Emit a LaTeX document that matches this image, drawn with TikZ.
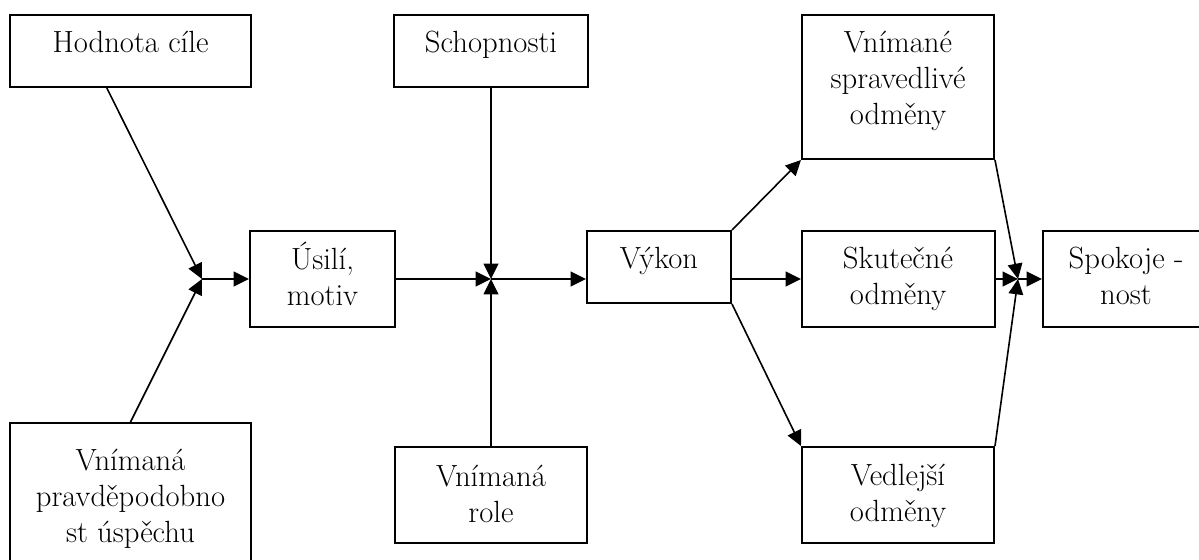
\documentclass[tikz,border=0pt]{standalone}
\usetikzlibrary{arrows.meta,fit,calc}
\newcommand\fl{\rule{0pt}{22pt}}
\begin{document}
\begin{tikzpicture}[x=0.75pt,y=-0.75pt,
  box/.style={draw=black,line width=1.5pt,inner sep=0pt,fill=none},
  txt/.style={anchor=north,inner sep=0pt,align=center,font=\fontsize{23}{27}\selectfont},
  conn/.style={line width=1.2pt,-{Triangle[length=11.5pt,width=11pt]}}]
\path[use as bounding box,clip] (0,0) rectangle (1199,560);
\fill[white] (0,0) rectangle (1199,560);
% boxes
\node[box,fit={(10,15)(251,87)}] (hod) {};
\node[box,fit={(10,423)(251,575)}] (pra) {};
\node[box,fit={(250,231)(395,327)}] (usi) {};
\node[box,fit={(394,15)(588,87)}] (sch) {};
\node[box,fit={(395,447)(587,543)}] (rol) {};
\node[box,fit={(587,231)(731,303)}] (vyk) {};
\node[box,fit={(802,15)(994,159)}] (spr) {};
\node[box,fit={(802,231)(995,327)}] (sku) {};
\node[box,fit={(802,447)(994,543)}] (ved) {};
\node[box,fit={(1043,231)(1210,327)}] (spo) {};
% texts
\node[txt] (hodT) at (130.5,22.67) {\fl Hodnota cíle};
\node[txt] (schT) at (491,22.67) {\fl Schopnosti};
\node[txt] (sprT) at (898,22.67) {\fl Vnímané\\spravedlivé\\odměny};
\node[txt] (usiT) at (322.5,239.67) {\fl Úsilí,\\motiv};
\node[txt] (vykT) at (659,238.67) {\fl Výkon};
\node[txt] (skuT) at (898,238.67) {\fl Skutečné\\odměny};
\node[txt] (spoT) at (1126,238.67) {\fl Spokoje -\\nost};
\node[txt] (praT) at (130.5,440.67) {\fl Vnímaná\\pravděpodobno\\st úspěchu};
\node[txt] (rolT) at (491,456.67) {\fl Vnímaná\\role};
\node[txt] (vedT) at (898,455.67) {\fl Vedlejší\\odměny};
% junctions
\coordinate (J1) at (202,279);
\coordinate (J2) at (491,279);
\coordinate (J3) at (1018,279);
% connectors
\draw[conn] ($(hod.south west)!0.4025!(hod.south east)$) -- (J1);
\draw[conn] (pra.north) -- (J1);
\draw[conn] (J1) -- (usi.west);
\draw[conn] (usi.east) -- (J2);
\draw[conn] (sch.south) -- (J2);
\draw[conn] (rol.north) -- (J2);
\draw[conn] (J2) -- (J2 -| vyk.west);
\draw[conn] (vyk.north east) -- (spr.south west);
\draw[conn] (vyk.east |- J2) -- (sku.west);
\draw[conn] (vyk.south east) -- (ved.north west);
\draw[conn] (spr.south east) -- (J3);
\draw[conn] (ved.north east) -- (J3);
\draw[conn] (sku.east) -- (J3);
\draw[conn] (J3) -- (spo.west);
\end{tikzpicture}
\end{document}
